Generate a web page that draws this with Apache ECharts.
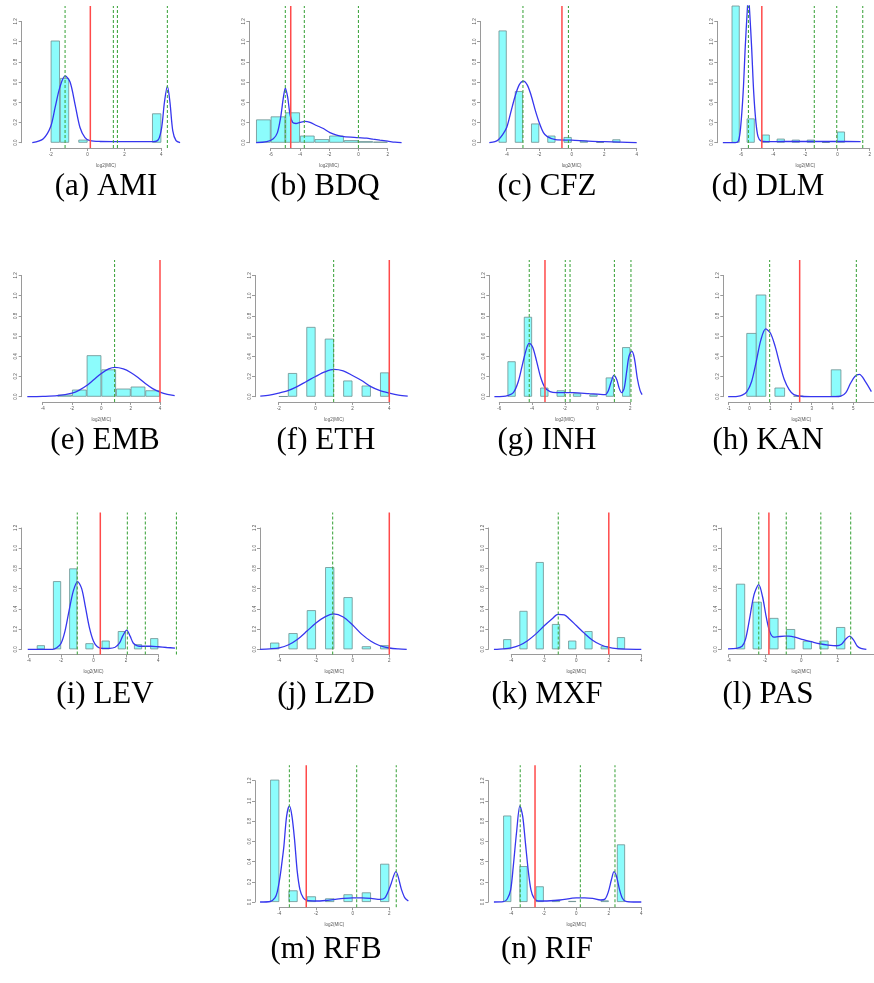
<!DOCTYPE html>
<html><head><meta charset="utf-8">
<script src="https://cdn.jsdelivr.net/npm/echarts@6/dist/echarts.min.js"></script>
<style>html,body{margin:0;padding:0;background:#fff}#c{width:874px;height:983px}</style>
</head><body><div id="c"></div>
<script>
// ---------- DATA ----------
const captions = ['(a) AMI','(b) BDQ','(c) CFZ','(d) DLM','(e) EMB','(f) ETH','(g) INH','(h) KAN','(i) LEV','(j) LZD','(k) MXF','(l) PAS','(m) RFB','(n) RIF'];

const amiBinW = 0.5, amiBinMid = [-1.75,-1.25,-0.25,3.75], amiBinH = [1.01,0.64,0.03,0.29];
const amiDensX = [-3.0,-2.4,-2.0,-1.76,-1.5,-1.22,-0.95,-0.68,-0.41,-0.14,0.13,0.68,2.48,3.57,3.84,4.02,4.17,4.33,4.47,4.62,4.8,5.02];
const amiDensY = [0.0,0.04,0.16,0.35,0.55,0.66,0.6,0.38,0.15,0.05,0.02,0.012,0.01,0.01,0.03,0.15,0.4,0.56,0.4,0.12,0.02,0.0];
const amiGreen = [-1.22,1.40,1.62,4.33], amiRed = [0.15], amiTicks = [-2,4,2];

const bdqBinW = 1, bdqBinMid = [-6.5,-5.5,-4.5,-3.5,-2.5,-1.5,-0.5,0.5,1.5], bdqBinH = [0.23,0.26,0.30,0.07,0.035,0.07,0.025,0.015,0.01];
const bdqDensX = [-7.0,-6.27,-5.82,-5.54,-5.32,-5.13,-5.0,-4.84,-4.68,-4.5,-4.27,-4.0,-3.65,-3.31,-2.86,-2.4,-1.95,-1.49,-1.0,0.0,0.56,1.0,1.47,2.0,2.5,2.95];
const bdqDensY = [0.0,0.01,0.04,0.1,0.25,0.45,0.54,0.45,0.28,0.2,0.19,0.2,0.21,0.2,0.17,0.14,0.1,0.075,0.06,0.05,0.045,0.035,0.025,0.015,0.005,0.0];
const bdqGreen = [-5.0,-3.7,0.0], bdqRed = [-4.63], bdqTicks = [-6,2,2];

const cfzBinW = 0.5, cfzBinMid = [-4.25,-3.25,-2.25,-1.25,-0.25,0.75,1.75,2.75], cfzBinH = [1.11,0.51,0.19,0.07,0.056,0.02,0.007,0.033];
const cfzDensX = [-5.07,-4.72,-4.51,-4.25,-4.0,-3.75,-3.5,-3.24,-2.97,-2.73,-2.5,-2.24,-2.0,-1.74,-1.5,-1.0,0.0,1.0,2.0,3.0,4.0];
const cfzDensY = [0.0,0.01,0.03,0.08,0.15,0.3,0.45,0.57,0.61,0.57,0.47,0.32,0.2,0.1,0.06,0.03,0.025,0.015,0.01,0.005,0.0];
const cfzGreen = [-3.0,-0.2], cfzRed = [-0.6], cfzTicks = [-4,4,2];

const dlmBinW = 0.5, dlmBinMid = [-6.25,-5.25,-4.25,-3.25,-2.25,-1.25,-0.25,0.75], dlmBinH = [1.6,0.24,0.08,0.04,0.03,0.03,0.005,0.11];
const dlmDensX = [-7.1,-6.27,-6.06,-5.92,-5.75,-5.61,-5.48,-5.4,-5.32,-5.19,-5.05,-4.9,-4.76,-4.55,-4.2,-3.07,-1.0,0.03,1.07,2.06];
const dlmDensY = [0.0,0.0,0.02,0.15,0.5,0.95,1.3,1.45,1.3,0.95,0.5,0.2,0.06,0.015,0.01,0.012,0.012,0.012,0.012,0.01];
const dlmGreen = [-5.4,-1.02,0.47,2.2], dlmRed = [-4.51], dlmTicks = [-6,2,2];

const embBinW = 1, embBinMid = [-2.5,-1.5,-0.5,0.5,1.5,2.5,3.5], embBinH = [0.02,0.07,0.41,0.27,0.08,0.1,0.063];
const embDensX = [-5.05,-4,-3,-2,-1.5,-1,-0.5,0,0.5,0.93,1.5,2,2.5,3,3.5,4,4.5,5];
const embDensY = [0.0,0.003,0.01,0.035,0.065,0.11,0.17,0.23,0.275,0.29,0.275,0.24,0.19,0.13,0.08,0.045,0.022,0.01];
const embGreen = [0.9], embRed = [4.0], embTicks = [-4,4,2];

const ethBinW = 0.5, ethBinMid = [-1.75,-1.25,-0.25,0.75,1.75,2.75,3.75], ethBinH = [0.004,0.234,0.69,0.574,0.16,0.11,0.24];
const ethDensX = [-3,-2.5,-2,-1.5,-1,-0.5,0,0.5,1,1.5,2,2.5,3,3.5,4,4.5,5];
const ethDensY = [0.005,0.015,0.035,0.06,0.1,0.15,0.2,0.245,0.27,0.255,0.21,0.16,0.1,0.06,0.035,0.015,0.005];
const ethGreen = [0.98], ethRed = [4.0], ethTicks = [-2,4,2];

const inhBinW = 0.5, inhBinMid = [-5.25,-4.25,-3.25,-2.25,-1.25,-0.25,0.75,1.75], inhBinH = [0.35,0.79,0.09,0.063,0.033,0.023,0.19,0.49];
const inhDensX = [-6.3,-5.76,-5.5,-5.14,-4.84,-4.57,-4.33,-4.17,-3.96,-3.72,-3.47,-3.21,-2.9,-2.5,-1.48,-0.5,0,0.46,0.66,0.82,1.0,1.17,1.33,1.47,1.62,1.78,1.92,2.09,2.25,2.43,2.6,2.72];
const inhDensY = [0.0,0.003,0.01,0.04,0.15,0.33,0.48,0.53,0.49,0.35,0.19,0.09,0.05,0.04,0.04,0.03,0.025,0.02,0.06,0.14,0.21,0.17,0.08,0.04,0.08,0.25,0.4,0.45,0.38,0.18,0.06,0.02];
const inhGreen = [-4.17,-1.97,-1.68,1.03,2.04], inhRed = [-3.21], inhTicks = [-6,2,2];

const kanBinW = 0.5, kanBinMid = [0.25,0.75,1.75,2.75,4.75], kanBinH = [0.63,1.01,0.09,0.01,0.27];
const kanDensX = [-1,-0.5,-0.25,0,0.25,0.5,0.74,1.0,1.25,1.5,1.74,1.99,2.25,2.5,3,4,4.72,5,5.27,5.51,5.75,5.99,6.31,6.63];
const kanDensY = [0.0,0.003,0.015,0.05,0.15,0.35,0.56,0.67,0.63,0.5,0.33,0.17,0.07,0.02,0.002,0.0,0.0,0.005,0.04,0.13,0.2,0.22,0.15,0.05];
const kanGreen = [1.21,5.83], kanRed = [2.81], kanTicks = [-1,6,1];

const levBinW = 0.5, levBinMid = [-3.25,-2.25,-1.25,-0.25,0.75,1.75,2.75,3.75], levBinH = [0.04,0.674,0.80,0.06,0.086,0.18,0.05,0.11];
const levDensX = [-4.06,-2.52,-2.27,-2.0,-1.76,-1.51,-1.24,-0.98,-0.73,-0.5,-0.26,0,0.24,0.51,1.0,1.33,1.6,1.8,2.05,2.26,2.46,2.71,3.0,3.51,4.0,4.52,5.03];
const levDensY = [0.0,0.0,0.015,0.06,0.18,0.38,0.58,0.67,0.6,0.42,0.22,0.08,0.025,0.01,0.01,0.02,0.06,0.13,0.19,0.13,0.06,0.035,0.03,0.03,0.025,0.018,0.012];
const levGreen = [-1.0,2.09,3.2,5.12], levRed = [0.42], levTicks = [-4,4,2];

const lzdBinW = 0.5, lzdBinMid = [-4.25,-3.25,-2.25,-1.25,-0.25,0.75,1.75], lzdBinH = [0.066,0.16,0.387,0.813,0.516,0.03,0.04];
const lzdDensX = [-5.05,-4.51,-4,-3.49,-3,-2.49,-2,-1.51,-1.05,-0.51,0,0.49,1,1.49,2,2.49,2.95];
const lzdDensY = [0.0,0.005,0.015,0.045,0.1,0.18,0.26,0.32,0.35,0.32,0.24,0.15,0.08,0.035,0.013,0.004,0.0];
const lzdGreen = [-1.09], lzdRed = [2.0], lzdTicks = [-4,2,2];

const mxfBinW = 0.5, mxfBinMid = [-4.25,-3.25,-2.25,-1.25,-0.25,0.75,1.75,2.75], mxfBinH = [0.1,0.38,0.863,0.25,0.086,0.18,0.03,0.12];
const mxfDensX = [-5.07,-4.49,-4,-3.49,-3,-2.5,-1.99,-1.5,-1.13,-0.74,-0.49,0,0.49,1.0,1.5,2.01,2.5,3.02,4];
const mxfDensY = [0.0,0.005,0.015,0.04,0.085,0.15,0.23,0.3,0.345,0.34,0.31,0.235,0.16,0.09,0.045,0.018,0.006,0.002,0.0];
const mxfGreen = [-1.11], mxfRed = [2.0], mxfTicks = [-4,4,2];

const pasBinW = 0.5, pasBinMid = [-3.25,-2.25,-1.25,-0.25,0.75,1.75,2.75], pasBinH = [0.648,0.47,0.31,0.2,0.083,0.086,0.22];
const pasDensX = [-4,-3.49,-3.16,-2.95,-2.71,-2.44,-2.16,-1.93,-1.71,-1.49,-1.25,-0.98,-0.62,-0.35,0,0.51,1,1.51,2,2.51,2.8,3.05,3.29,3.53,3.75,3.96,4.29];
const pasDensY = [0.005,0.01,0.03,0.1,0.3,0.54,0.64,0.52,0.32,0.17,0.12,0.125,0.13,0.13,0.12,0.095,0.075,0.055,0.042,0.035,0.05,0.1,0.13,0.09,0.03,0.01,0.0];
const pasGreen = [-2.16,-0.51,1.56,3.35], pasRed = [-1.55], pasTicks = [-4,4,2];

const rfbBinW = 0.5, rfbBinMid = [-4.25,-3.25,-2.25,-1.25,-0.25,0.75,1.75], rfbBinH = [1.21,0.115,0.056,0.036,0.076,0.095,0.378];
const rfbDensX = [-5.05,-4.49,-4.24,-4.11,-3.96,-3.85,-3.75,-3.6,-3.45,-3.31,-3.16,-3.02,-2.87,-2.69,-2.49,-2.0,-1.49,-1,-0.49,0,0.51,1,1.51,1.76,2.04,2.36,2.67,2.85,3.04];
const rfbDensY = [0.0,0.005,0.04,0.1,0.25,0.4,0.55,0.85,0.95,0.85,0.6,0.3,0.12,0.04,0.015,0.01,0.015,0.025,0.035,0.04,0.04,0.035,0.025,0.04,0.15,0.3,0.12,0.04,0.01];
const rfbGreen = [-3.45,0.22,2.38], rfbRed = [-2.53], rfbTicks = [-4,2,2];

const rifBinW = 0.5, rifBinMid = [-4.25,-3.25,-2.25,-1.25,-0.25,1.75,2.75], rifBinH = [0.855,0.355,0.155,0.02,0.01,0.016,0.57];
const rifDensX = [-5.07,-4.49,-4.25,-4.04,-3.88,-3.67,-3.47,-3.3,-3.14,-2.95,-2.79,-2.61,-2.34,-2,-1,0,0.51,1,1.5,1.77,1.97,2.16,2.32,2.48,2.65,2.83,3.05,3.51,4];
const rifDensY = [0.0,0.003,0.03,0.12,0.35,0.7,0.95,0.85,0.6,0.3,0.12,0.04,0.01,0.01,0.02,0.04,0.04,0.035,0.02,0.03,0.1,0.22,0.3,0.25,0.13,0.04,0.005,0.0,0.0];
const rifGreen = [-3.45,0.25,2.38], rifRed = [-2.54], rifTicks = [-4,4,2];

// ---------- LAYOUT (pixels) ----------
const panelAxisX = [21.7,249.3,480,717.3, 21.7,255,489.3,723.3, 21.7,260,488.3,721, 255,488.3];
const panelY0    = [142.7,142.7,142.7,142.7, 396.7,396.7,396.7,396.7, 649.3,649.3,649.3,649.3, 902,902];
const tickPx0    = [50.7,270.7,506.7,741, 42.7,278.7,499.3,728.7, 28.7,279.3,511.3,728.7, 279.3,511.3];
const tickPx1    = [161.3,387.7,636.7,870, 160,389.3,630.3,875.2, 158.3,389.3,641.3,875.3, 389.3,641.3];
const capX       = [106,325,547,768, 105,326,547,768, 105,326,547,768, 326,547];
const capY       = [187,187,187,187, 441,441,441,441, 695,695,695,695, 950,950];
const K = 101.1;      // px per density unit
const PLOT_W = 168;   // plot region width
const Y_LO = -0.052, Y_HI = 1.352; // plot region limits (ylim 0..1.3 + 4%)

const drugs = [
  [amiBinW,amiBinMid,amiBinH,amiDensX,amiDensY,amiGreen,amiRed,amiTicks],
  [bdqBinW,bdqBinMid,bdqBinH,bdqDensX,bdqDensY,bdqGreen,bdqRed,bdqTicks],
  [cfzBinW,cfzBinMid,cfzBinH,cfzDensX,cfzDensY,cfzGreen,cfzRed,cfzTicks],
  [dlmBinW,dlmBinMid,dlmBinH,dlmDensX,dlmDensY,dlmGreen,dlmRed,dlmTicks],
  [embBinW,embBinMid,embBinH,embDensX,embDensY,embGreen,embRed,embTicks],
  [ethBinW,ethBinMid,ethBinH,ethDensX,ethDensY,ethGreen,ethRed,ethTicks],
  [inhBinW,inhBinMid,inhBinH,inhDensX,inhDensY,inhGreen,inhRed,inhTicks],
  [kanBinW,kanBinMid,kanBinH,kanDensX,kanDensY,kanGreen,kanRed,kanTicks],
  [levBinW,levBinMid,levBinH,levDensX,levDensY,levGreen,levRed,levTicks],
  [lzdBinW,lzdBinMid,lzdBinH,lzdDensX,lzdDensY,lzdGreen,lzdRed,lzdTicks],
  [mxfBinW,mxfBinMid,mxfBinH,mxfDensX,mxfDensY,mxfGreen,mxfRed,mxfTicks],
  [pasBinW,pasBinMid,pasBinH,pasDensX,pasDensY,pasGreen,pasRed,pasTicks],
  [rfbBinW,rfbBinMid,rfbBinH,rfbDensX,rfbDensY,rfbGreen,rfbRed,rfbTicks],
  [rifBinW,rifBinMid,rifBinH,rifDensX,rifDensY,rifGreen,rifRed,rifTicks]
];

const AXC = '#9a9a9a', TXC = '#555', TF = 'Liberation Sans';
const GREEN = '#45A845', RED = '#FF4A4A';
const grid=[], xAxis=[], yAxis=[], series=[], graphic=[];
drugs.forEach((d,i)=>{
  const [bw, mid, h, dx, dy, green, red, ticks] = d;
  const ax = panelAxisX[i], y0 = panelY0[i], p0 = tickPx0[i], p1 = tickPx1[i];
  const [t0,t1,step] = ticks;
  const s = (p1-p0)/(t1-t0);
  const gi = grid.length;
  grid.push({left: ax, top: y0 - Y_HI*K, width: PLOT_W, height: (Y_HI-Y_LO)*K});
  xAxis.push({type:'value', gridIndex: gi, min: t0 + (ax-p0)/s, max: t0 + (ax+PLOT_W-p0)/s, show:false, splitLine:{show:false}});
  yAxis.push({type:'value', gridIndex: gi, min:Y_LO, max:Y_HI, show:false, splitLine:{show:false}});
  grid.push({left: p0, top: y0 - 1.2*K, width: p1-p0, height: 1.2*K});
  xAxis.push({type:'value', gridIndex: gi+1, min:t0, max:t1, interval:step, offset: -Y_LO*K,
    axisLine:{show:true, onZero:false, lineStyle:{color:AXC, width:1}}, axisTick:{show:true, length:3, lineStyle:{color:AXC}},
    axisLabel:{fontSize:4.5, color:TXC, margin:4, fontFamily:TF, showMaxLabel: p1 < 873},
    splitLine:{show:false}, name:'log2(MIC)', nameLocation:'middle', nameGap:15,
    nameTextStyle:{fontSize:4.5, color:TXC, fontFamily:TF}});
  yAxis.push({type:'value', gridIndex: gi+1, min:0, max:1.2, interval:0.2, offset: p0-ax,
    axisLine:{show:true, onZero:false, lineStyle:{color:AXC, width:1}}, axisTick:{show:true, length:3, lineStyle:{color:AXC}},
    axisLabel:{rotate:90, fontSize:4.5, color:TXC, margin:3, fontFamily:TF, formatter: v => v.toFixed(1)},
    splitLine:{show:false}});
  series.push({type:'bar', xAxisIndex: gi, yAxisIndex: gi, data: mid.map((m,k)=>[m,h[k]]), barWidth: bw*s,
    itemStyle:{color:'#8CFCFC', borderColor:'#6F8F8F', borderWidth:0.8}, silent:true, clip:true});
  series.push({type:'line', xAxisIndex: gi, yAxisIndex: gi, data: dx.map((x,k)=>[x,dy[k]]), smooth:0.3,
    showSymbol:false, symbol:'none', lineStyle:{color:'#3636EE', width:1.3}, silent:true, clip:true});
  green.forEach(v => series.push({type:'line', xAxisIndex: gi, yAxisIndex: gi, data: [[v,Y_LO],[v,Y_HI]],
    showSymbol:false, symbol:'none', silent:true, color: GREEN, lineStyle:{color:GREEN, type:[3,2], width:1.1}}));
  red.forEach(v => series.push({type:'line', xAxisIndex: gi, yAxisIndex: gi, data: [[v,Y_LO],[v,Y_HI]],
    showSymbol:false, symbol:'none', silent:true, color: RED, lineStyle:{color:RED, type:'solid', width:1.5}}));
  graphic.push({type:'text', x: capX[i], y: capY[i], silent:true,
    style:{text: captions[i], fill:'#000', font:'31px "Liberation Serif"', align:'center', verticalAlign:'middle', textAlign:'center', textVerticalAlign:'middle'}});
});

const chart = echarts.init(document.getElementById('c'), null, {renderer:'canvas'});
chart.setOption({animation:false, backgroundColor:'#fff', grid, xAxis, yAxis, series, graphic});
</script></body></html>
